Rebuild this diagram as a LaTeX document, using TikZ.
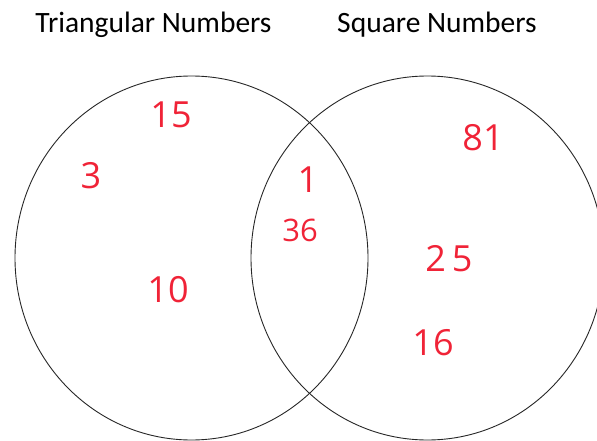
\documentclass[tikz,border=0pt]{standalone}
\usepackage{fontspec}
\setmainfont{Carlito}
\newfontfamily\handfont{Open Sans}
\usetikzlibrary{shapes.geometric}
\definecolor{penred}{RGB}{240,35,55}
\begin{document}
\begin{tikzpicture}[x=1pt,y=-1pt,
  set/.style={ellipse,draw=black!85,line width=0.9pt,minimum width=353pt,minimum height=364pt,inner sep=0pt},
  title/.style={anchor=base,font=\fontsize{29.5}{31}\selectfont},
  num/.style={text=penred,font=\handfont\fontsize{36}{38}\selectfont,inner sep=0pt}]
\useasboundingbox (0,0) rectangle (597,441);
\node[title] (ttri) at (153.5,33) {Triangular Numbers};
\node[title] (tsq) at (437,33) {Square Numbers};
\node[set] (tri) at (191.5,258) {};
\node[set] (sq) at (427.5,258) {};
\node[num] (n15) at (171,115) {15};
\node[num] (n3) at (91,176) {3};
\node[num] (n10) at (168,290) {10};
\node[num] (n1) at (308,180) {1};
\node[num,font=\handfont\fontsize{31}{33}\selectfont] (n36) at (300,230) {36};
\node[num] (n81) at (483,138) {81};
\node[num] (n25) at (449,259) {2\,5};
\node[num] (n16) at (433,343) {16};
\end{tikzpicture}
\end{document}
